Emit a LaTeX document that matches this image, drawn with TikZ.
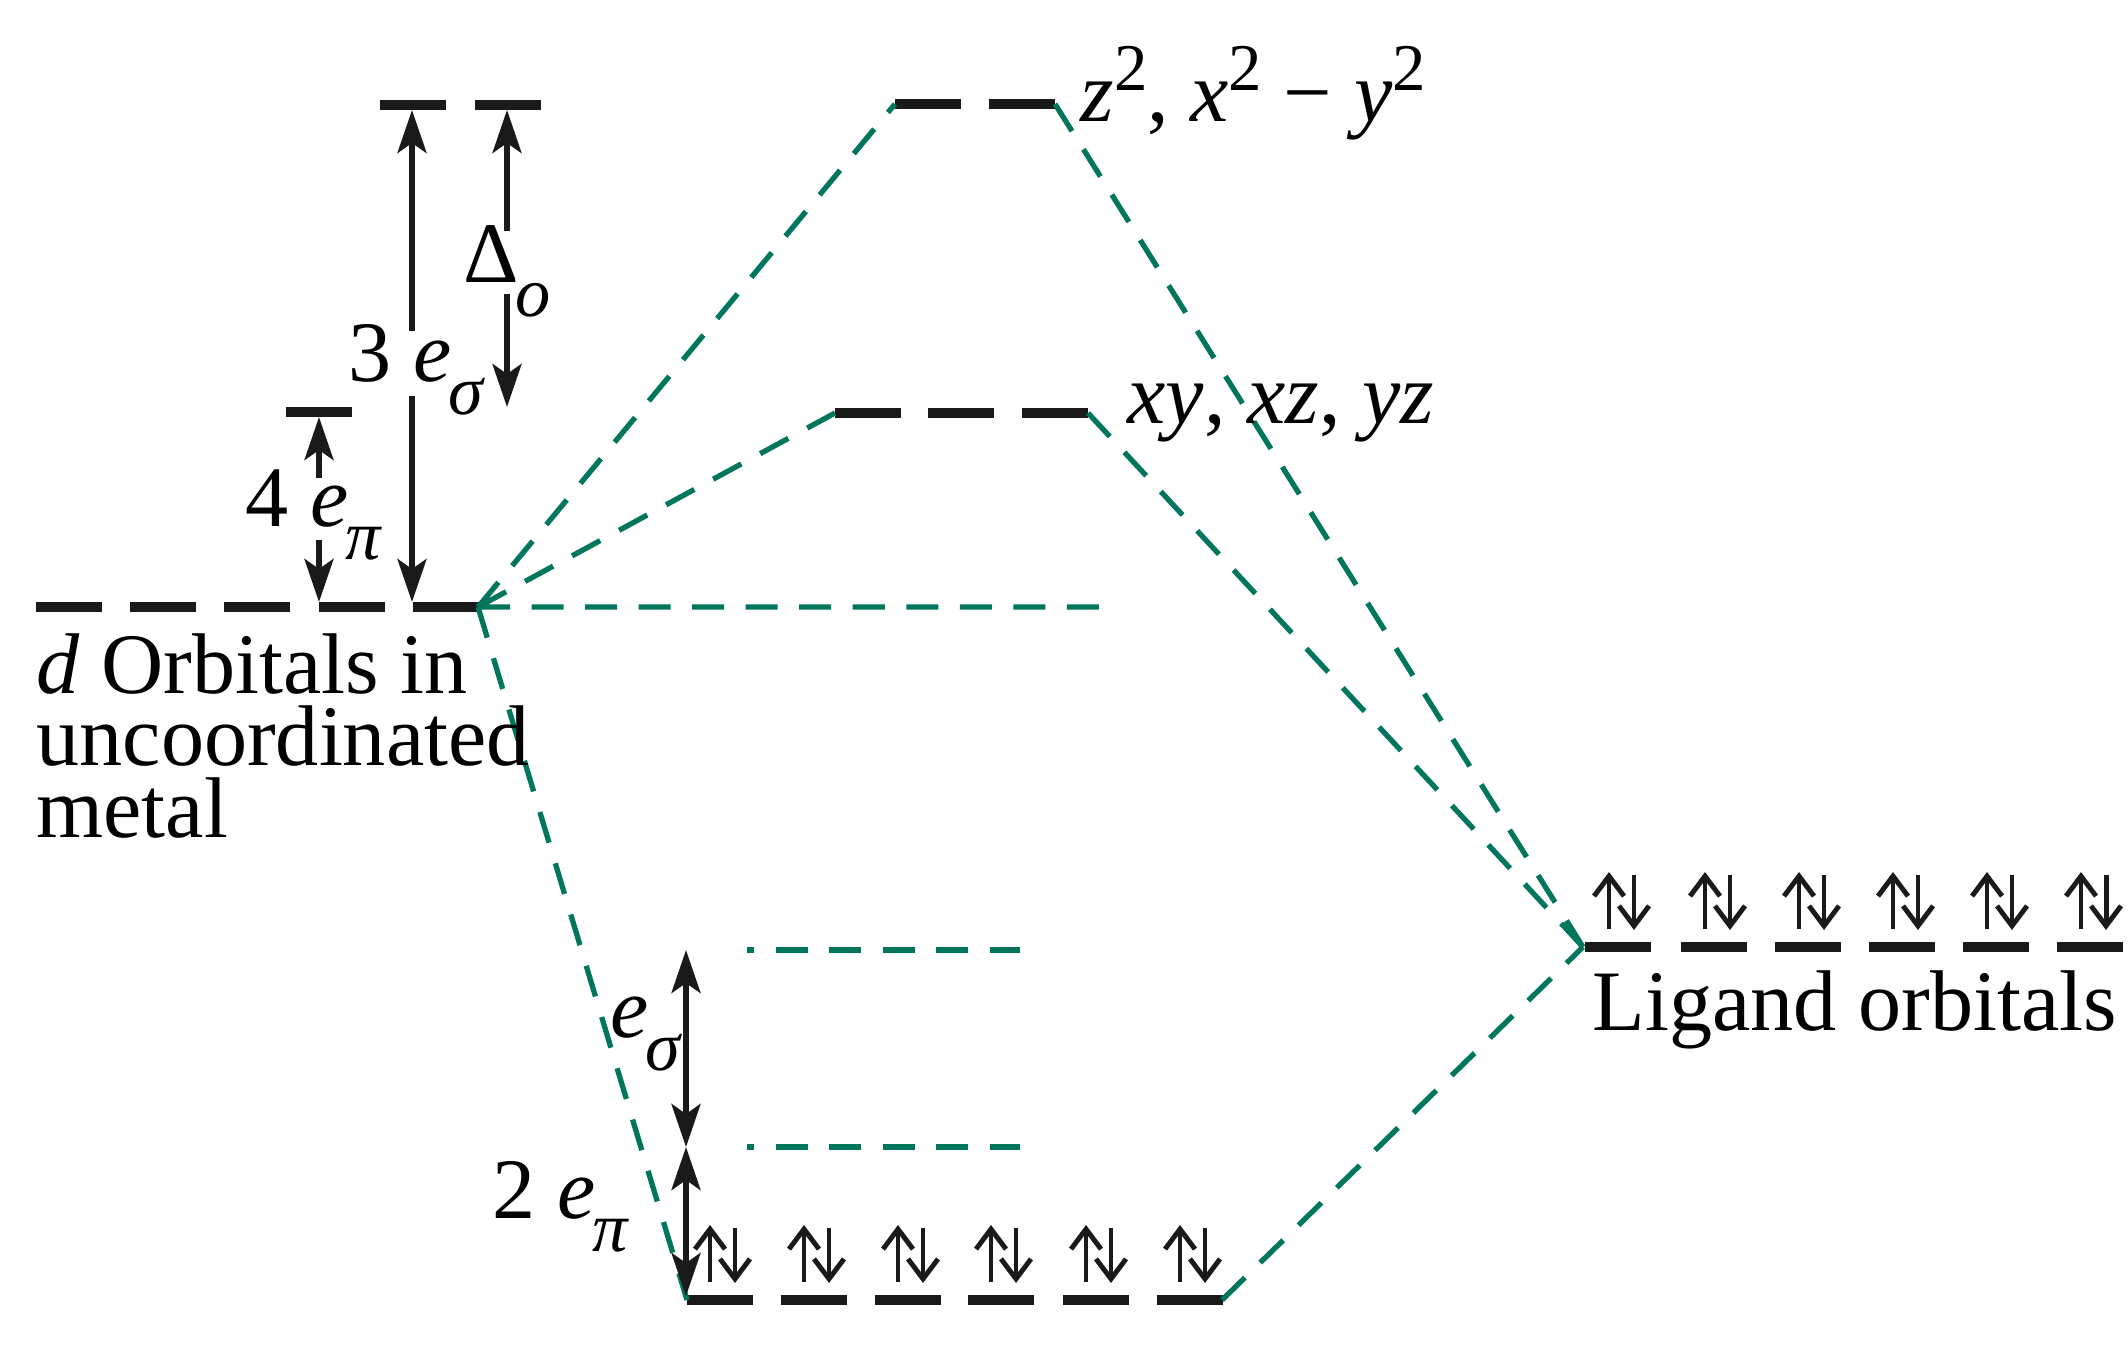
\documentclass[tikz,border=0pt]{standalone}
\usepackage{fontspec}
\setmainfont{Liberation Serif}
\usetikzlibrary{arrows.meta}
\definecolor{ink}{RGB}{26,26,26}
\definecolor{corr}{RGB}{0,118,92}
\newcommand{\lsub}[1]{\kern-1pt\raisebox{-9.4pt}{\fontsize{20}{20}\selectfont\itshape #1}}
\newcommand{\lsup}[1]{\raisebox{9pt}{\fontsize{19}{19}\selectfont #1}}
\tikzset{
  lvl/.style={ink, line width=3pt},
  corrline/.style={corr, line width=1.5pt, dash pattern=on 0.32cm off 0.215cm},
  gap/.style={ink, line width=1.5pt},
  spin/.style={ink, line width=1.4pt, -{Straight Barb[length=0.2cm,width=0.3cm]}},
  lbl/.style={font=\fontsize{24.5}{20.5}\selectfont, inner sep=0pt, anchor=base west}
}
\begin{document}
\begin{tikzpicture}[x=0.01cm, y=-0.01cm, >={Stealth[length=0.43cm,width=0.29cm,inset=0.1cm]}]
\useasboundingbox (0,0) rectangle (2128,1346);

% levels
\foreach \x in {36,130,224,319,413} \draw[lvl] (\x,607) -- ++(66,0);
\foreach \x in {380,475} \draw[lvl] (\x,105) -- ++(66,0);
\draw[lvl] (286,412) -- ++(66,0);
\foreach \x in {895,989} \draw[lvl] (\x,104) -- ++(66,0);
\foreach \x in {835,928,1022} \draw[lvl] (\x,413) -- ++(66,0);
\foreach \x in {687,781,875,968,1063,1157} {
  \draw[lvl] (\x,1300) -- ++(66,0);
  \draw[spin] ({\x+23},1282) -- ({\x+23},1225);
  \draw[spin] ({\x+48},1228) -- ({\x+48},1283);
}
\foreach \x in {1585,1681,1775,1869,1963,2057} {
  \draw[lvl] (\x,947) -- ++(66,0);
  \draw[spin] ({\x+24},929) -- ({\x+24},872);
  \draw[spin] ({\x+49},875) -- ({\x+49},930);
}

\coordinate (d) at (478,607);
\coordinate (egL) at (895,104);
\coordinate (egR) at (1055,104);
\coordinate (tL) at (835,413);
\coordinate (tR) at (1088,413);
\coordinate (bL) at (687,1300);
\coordinate (bR) at (1222,1300);
\coordinate (lig) at (1583,947);
\coordinate (bary) at (1100,607);

\draw[corrline] (d) -- (egL)  (d) -- (tL)  (d) -- (bary)  (d) -- (bL);
\draw[corrline] (egR) -- (lig)  (tR) -- (lig)  (bR) -- (lig);
\draw[corrline, dash phase=0.25cm] (747,950) -- (1020,950)  (747,1147) -- (1020,1147);

% splittings
\draw[gap,->] (412,331) -- (412,110);
\draw[gap,->] (412,396) -- (412,602);
\draw[gap,->] (507,231) -- (507,110);
\draw[gap,->] (507,294) -- (507,407);
\draw[gap,->] (319,478) -- (319,417);
\draw[gap,->] (319,540) -- (319,602);
\draw[gap,<->] (686,950) -- (686,1147);
\draw[gap,<->] (686,1147) -- (686,1296);

\node[lbl] (l3e) at (348,381) {3 \textit{e}\lsub{σ}};
\node[lbl] (ldo) at (463,283) {Δ\lsub{o}};
\node[lbl] (l4e) at (245,526) {4 \textit{e}\lsub{π}};
\node[lbl] (les) at (610,1037) {\textit{e}\lsub{σ}};
\node[lbl] (l2e) at (492,1218) {2 \textit{e}\lsub{π}};
\node[lbl] (leg) at (1080,122) {\textit{z}\lsup{2}, \textit{x}\lsup{2} − \textit{y}\lsup{2}};
\node[lbl] (lt2g) at (1127,423) {\textit{xy}, \textit{xz}, \textit{yz}};
\node[lbl, text width=5cm, align=flush left] (lmetal) at (36,693) {\textit{d} Orbitals in\\uncoordinated\\metal};
\node[lbl] (llig) at (1592,1030) {Ligand orbitals};
\end{tikzpicture}
\end{document}
